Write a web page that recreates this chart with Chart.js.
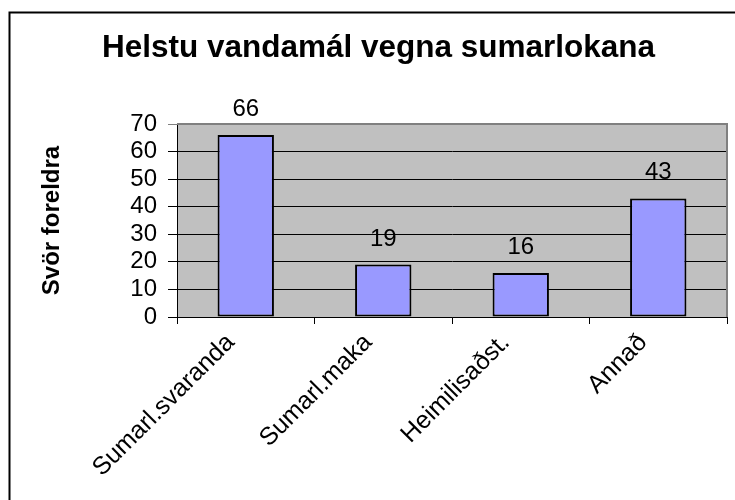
<!DOCTYPE html>
<html>
<head>
<meta charset="utf-8">
<script src="https://cdn.jsdelivr.net/npm/chart.js@4/dist/chart.umd.min.js"></script>
<style>
html,body{margin:0;padding:0;background:#fff;}
canvas{display:block;}
</style>
</head>
<body>
<canvas id="c" width="735" height="500"></canvas>
<script>
const categories = ["Sumarl.svaranda", "Sumarl.maka", "Heimilisaðst.", "Annað"];
const values = [66, 19, 16, 43];
const yTicks = [0, 10, 20, 30, 40, 50, 60, 70];
const chartTitle = "Helstu vandamál vegna sumarlokana";
const yTitle = "Svör foreldra";

const FONT = "'Liberation Sans', Arial, sans-serif";
Chart.defaults.font.family = FONT;
Chart.defaults.color = "#000";

const framePlugin = {
  id: "frame",
  beforeDraw(chart) {
    const ctx = chart.ctx, a = chart.chartArea;
    ctx.save();
    ctx.fillStyle = "#C0C0C0";
    ctx.fillRect(a.left, a.top, a.right - a.left, a.bottom - a.top);
    ctx.restore();
  },
  afterDraw(chart) {
    const ctx = chart.ctx, a = chart.chartArea;
    ctx.save();
    ctx.strokeStyle = "#808080";
    ctx.lineWidth = 2;
    ctx.beginPath();
    ctx.moveTo(a.left, a.top);
    ctx.lineTo(a.right, a.top);
    ctx.lineTo(a.right, a.bottom);
    ctx.stroke();
    ctx.strokeStyle = "#000";
    ctx.lineWidth = 2;
    ctx.strokeRect(9.5, 12.5, 740, 500);
    ctx.restore();
  }
};

const valueLabels = {
  id: "valueLabels",
  afterDatasetsDraw(chart) {
    const ctx = chart.ctx;
    const meta = chart.getDatasetMeta(0);
    ctx.save();
    ctx.font = "24px " + FONT;
    ctx.fillStyle = "#000";
    ctx.textAlign = "center";
    ctx.textBaseline = "alphabetic";
    meta.data.forEach((bar, i) => {
      ctx.fillText(String(chart.data.datasets[0].data[i]), bar.x, bar.y - 19);
    });
    ctx.restore();
  }
};

new Chart(document.getElementById("c"), {
  type: "bar",
  data: {
    labels: categories,
    datasets: [{
      data: values,
      backgroundColor: "#9999FF",
      borderColor: "#000",
      borderWidth: 2,
      borderSkipped: false,
      barPercentage: 0.41,
      categoryPercentage: 1.0
    }]
  },
  options: {
    responsive: false,
    animation: false,
    layout: { padding: { left: 30, top: 0, right: 8, bottom: 0 } },
    plugins: {
      legend: { display: false },
      tooltip: { enabled: false },
      title: {
        display: true,
        text: chartTitle,
        font: { size: 31.5, weight: "bold", family: FONT },
        color: "#000",
        padding: { top: 29, bottom: 57.2 }
      }
    },
    scales: {
      x: {
        grid: {
          offset: true,
          drawOnChartArea: false,
          drawTicks: true,
          tickLength: 7,
          color: "#000"
        },
        border: { color: "#000", width: 1 },
        ticks: {
          minRotation: 45,
          maxRotation: 45,
          autoSkip: false,
          padding: 4,
          labelOffset: -15,
          font: { size: 25 },
          color: "#000"
        },
        afterFit(scale) { scale.height = 183; }
      },
      y: {
        min: 0,
        max: 70,
        afterBuildTicks(scale) { scale.ticks = yTicks.map(v => ({ value: v })); },
        grid: {
          color: (c) => c.tick && c.tick.value === 70 ? "#808080" : "#000",
          lineWidth: 1,
          drawTicks: true,
          tickLength: 9
        },
        border: { color: "#000", width: 1 },
        ticks: {
          autoSkip: false,
          padding: 11,
          font: { size: 24 },
          color: "#000"
        },
        title: {
          display: true,
          text: yTitle,
          font: { size: 24, weight: "bold", family: FONT },
          color: "#000",
          padding: { top: 7.6, bottom: 0 }
        },
        afterFit(scale) { scale.width = 147; }
      }
    }
  },
  plugins: [framePlugin, valueLabels]
});
</script>
</body>
</html>
